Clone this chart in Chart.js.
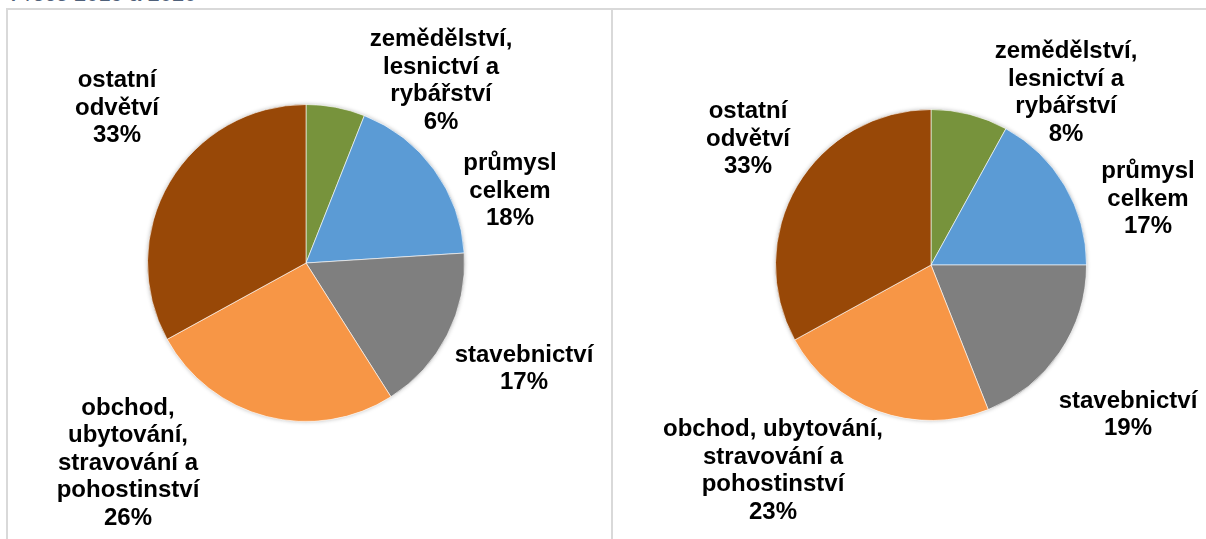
<!DOCTYPE html>
<html>
<head>
<meta charset="utf-8">
<script src="https://cdn.jsdelivr.net/npm/chart.js@4/dist/chart.umd.min.js"></script>
<style>
  html, body { margin: 0; padding: 0; background: #fff; }
  body { width: 1206px; height: 539px; position: relative; overflow: hidden; font-family: "Liberation Sans", Arial, sans-serif; }
  #popisek { position: absolute; left: 8px; top: -19px; font-size: 22px; color: #4f6079; white-space: nowrap; }
  .linka { position: absolute; background: #d9d9d9; }
  .panel { position: absolute; }
</style>
</head>
<body>
<div id="popisek">v roce 2019 a 2020</div>
<div class="linka" style="left:6px; top:8px; width:1200px; height:2px;"></div>
<div class="linka" style="left:6px; top:8px; width:2px; height:531px;"></div>
<div class="linka" style="left:611px; top:8px; width:2px; height:531px;"></div>
<div class="panel" style="left:8px; top:10px; width:603px; height:529px;"><canvas id="graf-2019"></canvas></div>
<div class="panel" style="left:614px; top:10px; width:592px; height:529px;"><canvas id="graf-2020"></canvas></div>
<script>
// odvětví
const kategorie = [
  "zemědělství, lesnictví a rybářství",
  "průmysl celkem",
  "stavebnictví",
  "obchod, ubytování, stravování a pohostinství",
  "ostatní odvětví"
];
// podíly v %
const hodnoty2019 = [6, 18, 17, 26, 33];
const hodnoty2020 = [8, 17, 19, 23, 33];

// zalomení popisků (jako v originálu)
const radky2019 = [
  ["zemědělství,", "lesnictví a", "rybářství"],
  ["průmysl", "celkem"],
  ["stavebnictví"],
  ["obchod,", "ubytování,", "stravování a", "pohostinství"],
  ["ostatní", "odvětví"]
];
const radky2020 = [
  ["zemědělství,", "lesnictví a", "rybářství"],
  ["průmysl", "celkem"],
  ["stavebnictví"],
  ["obchod, ubytování,", "stravování a", "pohostinství"],
  ["ostatní", "odvětví"]
];

const barvy = ["#77933c", "#5b9bd5", "#7f7f7f", "#f79646", "#984807"];

// posun popisků od středu koláče (px)
const posun2019 = [[135, -182], [204, -72], [218, 106], [-178, 200], [-189, -155]];
const posun2020 = [[135, -172], [217, -66], [197, 150], [-158, 206], [-183, -126]];

const popiskyPlugin = {
  id: "popisky",
  beforeDatasetsDraw(chart) {
    // jemný stín pod koláčem
    const a = chart.getDatasetMeta(0).data[0];
    const ctx = chart.ctx;
    ctx.save();
    ctx.shadowColor = "rgba(0,0,0,0.28)";
    ctx.shadowBlur = 4;
    ctx.fillStyle = "#ffffff";
    ctx.beginPath();
    ctx.arc(a.x, a.y, a.outerRadius, 0, Math.PI * 2);
    ctx.fill();
    ctx.restore();
  },
  afterDatasetsDraw(chart, args, opts) {
    const ctx = chart.ctx;
    const meta = chart.getDatasetMeta(0);
    const data = chart.data.datasets[0].data;
    ctx.save();
    ctx.font = "bold 24px 'Liberation Sans', Arial, sans-serif";
    ctx.fillStyle = "#000";
    ctx.textAlign = "center";
    ctx.textBaseline = "middle";
    const lh = 27.5;
    meta.data.forEach((arc, i) => {
      const radky = opts.radky[i].concat([data[i] + "%"]);
      const cx = arc.x + opts.posun[i][0];
      const cy = arc.y + opts.posun[i][1];
      radky.forEach((t, j) => {
        ctx.fillText(t, cx, cy + (j - (radky.length - 1) / 2) * lh);
      });
    });
    ctx.restore();
  }
};

function vytvorGraf(id, hodnoty, radky, posun, padding) {
  const ctx = document.getElementById(id).getContext("2d");
  return new Chart(ctx, {
    type: "pie",
    data: {
      labels: kategorie,
      datasets: [{
        data: hodnoty,
        backgroundColor: barvy,
        borderColor: "rgba(255,255,255,0.6)",
        borderWidth: 1
      }]
    },
    options: {
      responsive: true,
      maintainAspectRatio: false,
      animation: false,
      layout: { padding: padding },
      plugins: {
        legend: { display: false },
        tooltip: { enabled: false },
        popisky: { radky: radky, posun: posun }
      }
    },
    plugins: [popiskyPlugin]
  });
}

vytvorGraf("graf-2019", hodnoty2019, radky2019, posun2019, { left: 139, right: 146, top: 94, bottom: 117 });
vytvorGraf("graf-2020", hodnoty2020, radky2020, posun2020, { left: 161, right: 119, top: 99, bottom: 118 });
</script>
</body>
</html>
